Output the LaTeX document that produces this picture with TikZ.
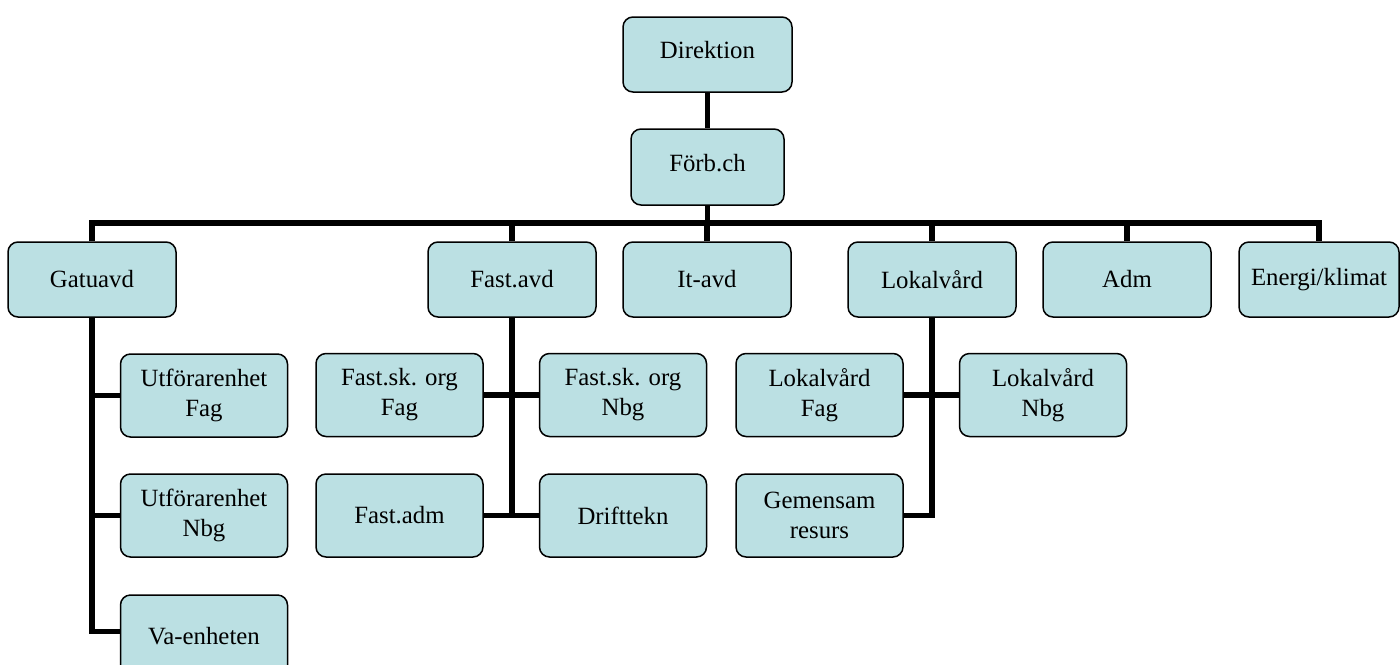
\documentclass[tikz,border=0pt]{standalone}
\usepackage{fontspec}
\setmainfont{Liberation Serif}
\definecolor{boxfill}{HTML}{BBE0E3}
\tikzset{
  orgbox/.style={draw=black, line width=0.75pt, fill=boxfill, rounded corners=5pt,
    align=center, inner sep=0pt, font=\fontsize{12.4}{15}\selectfont},
  topbox/.style={orgbox, minimum width=84pt, minimum height=37.5pt},
  subbox/.style={orgbox, minimum width=83.5pt, minimum height=41.5pt},
  conn/.style={draw=black, line width=2.6pt, line join=miter}
}
\begin{document}
\begin{tikzpicture}[x=0.5pt,y=-0.5pt]
\useasboundingbox (0,0) rectangle (1400,664);
\clip (0,0) rectangle (1400,664);
% top
\node[topbox, minimum width=84.5pt] (dir) at (707.5,54.5) {\raisebox{4.5pt}{Direktion}};
\node[topbox, minimum width=76.5pt, minimum height=38pt] (forb) at (707.5,167) {\raisebox{4.5pt}{Förb.ch}};
% row 2
\node[topbox] (gat) at (92,279.5) {Gatuavd};
\node[topbox] (fast) at (512,279.5) {Fast.avd};
\node[topbox] (it) at (707,279.5) {It-avd};
\node[topbox] (lok) at (932,279.5) {Lokalvård};
\node[topbox] (adm) at (1127,279.5) {Adm};
\node[topbox, minimum width=80pt] (ene) at (1319,279.5) {Energi/klimat};
% Gatuavd children
\node[subbox] (uf) at (204,395.5) {Utförarenhet\\Fag};
\node[subbox] (un) at (204,515.5) {Utförarenhet\\Nbg};
\node[subbox] (va) at (204,636.5) {Va-enheten};
% Fast.avd children
\node[subbox] (fsf) at (399.5,395) {Fast.sk. org\\Fag};
\node[subbox] (fsn) at (623,395) {Fast.sk. org\\Nbg};
\node[subbox] (fadm) at (399.5,515.5) {Fast.adm};
\node[subbox] (drift) at (623,515.5) {Drifttekn};
% Lokalvård children
\node[subbox] (lf) at (819.5,395) {Lokalvård\\Fag};
\node[subbox] (ln) at (1043,395) {\raisebox{2pt}{\begin{tabular}{@{}c@{}}Lokalvård\\Nbg\end{tabular}}};
\node[subbox] (gem) at (819.5,515.5) {Gemensam\\resurs};
% connectors
\coordinate (bar) at (707.5,223);
\draw[conn] (dir.south) -- (forb.north);
\draw[conn] (forb.south) -- (bar);
\draw[conn] (gat.north) |- (bar) -| (ene.north);
\foreach \n in {fast,it,lok,adm} \draw[conn] (bar -| \n.north) -- (\n.north);
\draw[conn] (gat.south) |- (uf.west);
\draw[conn] (gat.south) |- (un.west);
\draw[conn] (gat.south) |- ([yshift=2.5pt]va.west);
\draw[conn] (fast.south) -- (fast.south |- fadm.east);
\draw[conn] (fsf.east) -- (fsn.west);
\draw[conn] (fadm.east) -- (drift.west);
\draw[conn] (lok.south) |- (gem.east);
\draw[conn] (lf.east) -- (ln.west);
\end{tikzpicture}
\end{document}
